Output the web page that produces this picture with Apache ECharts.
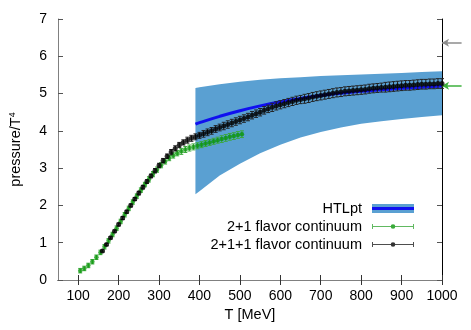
<!DOCTYPE html>
<html>
<head>
<meta charset="utf-8">
<script src="https://cdn.jsdelivr.net/npm/echarts@6/dist/echarts.min.js"></script>
<style>html,body{margin:0;padding:0;background:#fff}#c{width:471px;height:330px}</style>
</head>
<body>
<div id="c"></div>
<script>
// ---------------- data ----------------
const xTicks = [100,200,300,400,500,600,700,800,900,1000];

// HTLpt band (lower / upper) and central value
const htlT      = [390,400,450,500,550,600,650,700,750,800,850,900,950,1000];
const htlLower  = [2.30,2.38,2.80,3.12,3.40,3.63,3.82,3.97,4.09,4.19,4.26,4.32,4.37,4.42];
const htlUpper  = [5.15,5.17,5.25,5.32,5.37,5.41,5.44,5.47,5.49,5.51,5.53,5.55,5.58,5.60];
const htlCenter = [4.18,4.22,4.39,4.54,4.67,4.78,4.87,4.95,5.01,5.06,5.10,5.14,5.17,5.20];

// 2+1 flavor continuum
const g21T   = [105,115,125,135,145,155,165,175,185,195,205,215,225,235,245,255,265,275,285,295,305,315,325,335,345,355,365,375,385,395,405,415,425,435,445,455,465,475,485,495,505];
const g21P   = [0.25,0.31,0.39,0.49,0.61,0.74,0.89,1.05,1.22,1.39,1.57,1.75,1.92,2.09,2.25,2.41,2.56,2.70,2.84,2.96,3.08,3.18,3.27,3.34,3.40,3.45,3.50,3.54,3.57,3.60,3.63,3.66,3.69,3.72,3.75,3.78,3.81,3.84,3.86,3.89,3.91];
const g21Err = [0.06,0.06,0.06,0.06,0.06,0.06,0.06,0.06,0.06,0.06,0.06,0.06,0.06,0.06,0.06,0.06,0.06,0.07,0.07,0.07,0.07,0.07,0.07,0.07,0.07,0.08,0.08,0.08,0.08,0.08,0.08,0.08,0.08,0.08,0.08,0.09,0.09,0.09,0.09,0.09,0.09];

// 2+1+1 flavor continuum
const g211T = [160,170,180,190,200,210,220,230,240,250,260,270,280,290,300,310,320,330,340,350,360,370,380,390,400,410,420,430,440,450,460,470,480,490,500,510,520,530,540,550,560,570,580,590,600,610,620,630,640,650,660,670,680,690,700,710,720,730,740,750,760,770,780,790,800,810,820,830,840,850,860,870,880,890,900,910,920,930,940,950,960,970,980,990,1000];
const g211P = [0.78,0.95,1.13,1.31,1.49,1.66,1.83,2.00,2.17,2.33,2.49,2.64,2.79,2.93,3.07,3.20,3.32,3.43,3.53,3.62,3.69,3.75,3.80,3.84,3.88,3.92,3.96,4.00,4.05,4.09,4.13,4.17,4.21,4.25,4.29,4.33,4.37,4.42,4.46,4.50,4.55,4.59,4.63,4.67,4.70,4.73,4.76,4.79,4.82,4.84,4.86,4.88,4.91,4.93,4.95,4.97,4.99,5.01,5.03,5.04,5.06,5.07,5.08,5.09,5.10,5.11,5.13,5.14,5.15,5.16,5.17,5.18,5.19,5.20,5.21,5.22,5.22,5.23,5.24,5.25,5.25,5.26,5.26,5.27,5.27];
const g211Err = [0.03,0.03,0.03,0.03,0.04,0.04,0.04,0.04,0.04,0.05,
                 0.05,0.05,0.05,0.06,0.06,0.06,0.06,0.07,0.07,0.07,
                 0.07,0.08,0.08,0.08,0.08,0.09,0.09,0.09,0.09,0.09,
                 0.10,0.10,0.10,0.10,0.10,0.10,0.10,0.10,0.10,0.10,
                 0.10,0.10,0.11,0.11,0.11,0.11,0.11,0.11,0.11,0.11,
                 0.12,0.12,0.12,0.12,0.12,0.12,0.12,0.12,0.12,0.12,
                 0.12,0.12,0.12,0.12,0.12,0.12,0.12,0.12,0.12,0.12,
                 0.13,0.13,0.13,0.13,0.13,0.13,0.13,0.13,0.13,0.13,
                 0.13,0.13,0.13,0.13,0.13];

// Stefan-Boltzmann limits (arrows on the right)
const sbLimit211 = 6.36;
const sbLimit21  = 5.21;

// ---------------- build ----------------
const FONT = 'Liberation Sans, Arial, Helvetica, sans-serif';
const BAND = '#5aa0d2', BLUE = '#1010f0';
const GREEN = '#0a960a', GREEN_ERR = '#3aa83a';
const BLACK = '#000000', BLACK_ERR = '#222222';

const zip2 = (a, b) => a.map((v, i) => [v, b[i]]);
const zip3 = (a, b, c) => a.map((v, i) => [v, b[i], c[i]]);

function svgIcon(inner) {
  return 'image://data:image/svg+xml;charset=utf-8,' + encodeURIComponent(
    "<svg xmlns='http://www.w3.org/2000/svg' width='42' height='10' viewBox='0 0 42 10'>" + inner + "</svg>");
}
const htlIcon = svgIcon("<rect x='0' y='0.5' width='42' height='9' fill='" + BAND + "'/><rect x='0' y='3.5' width='42' height='3' fill='" + BLUE + "'/>");
function errIcon(lc, pc) {
  return svgIcon("<line x1='0.5' y1='5' x2='41.5' y2='5' stroke='" + lc + "' stroke-width='1'/>" +
    "<line x1='0.5' y1='2.5' x2='0.5' y2='7.5' stroke='" + lc + "' stroke-width='1'/>" +
    "<line x1='41.5' y1='2.5' x2='41.5' y2='7.5' stroke='" + lc + "' stroke-width='1'/>" +
    "<circle cx='21' cy='5' r='2.3' fill='" + pc + "'/>");
}

function errRender(color) {
  return function (params, api) {
    const x = api.value(0), y = api.value(1), e = api.value(2);
    const lo = api.coord([x, y - e]), hi = api.coord([x, y + e]);
    const w = 2;
    const st = { stroke: color, lineWidth: 1 };
    return { type: 'group', children: [
      { type: 'line', shape: { x1: lo[0], y1: lo[1], x2: hi[0], y2: hi[1] }, style: st },
      { type: 'line', shape: { x1: lo[0] - w, y1: lo[1], x2: lo[0] + w, y2: lo[1] }, style: st },
      { type: 'line', shape: { x1: hi[0] - w, y1: hi[1], x2: hi[0] + w, y2: hi[1] }, style: st }
    ]};
  };
}

// band polygon: upper edge left->right, lower edge right->left
function bandRender(params, api) {
  const pts = [];
  for (let i = 0; i < htlT.length; i++) pts.push(api.coord([htlT[i], htlUpper[i]]));
  for (let i = htlT.length - 1; i >= 0; i--) pts.push(api.coord([htlT[i], htlLower[i]]));
  return { type: 'polygon', shape: { points: pts }, style: { fill: BAND, stroke: null } };
}

const chart = echarts.init(document.getElementById('c'), null, { renderer: 'canvas' });

const axisFont = { fontFamily: FONT, fontSize: 14, color: '#000' };

chart.setOption({
  animation: false,
  backgroundColor: '#fff',
  grid: { left: 57, right: 29, top: 19, bottom: 50, containLabel: false },
  legend: {
    orient: 'vertical', right: 57, top: 201, padding: 0,
    align: 'right', itemWidth: 42, itemHeight: 10, itemGap: 3,
    textStyle: { fontFamily: FONT, fontSize: 14.5, color: '#000', padding: [0, 5, 0, 0] },
    selectedMode: false,
    data: [
      { name: 'HTLpt', icon: htlIcon },
      { name: '2+1 flavor continuum', icon: errIcon(GREEN_ERR, GREEN) },
      { name: '2+1+1 flavor continuum', icon: errIcon(BLACK_ERR, BLACK) }
    ]
  },
  xAxis: [
    {
      type: 'value', position: 'bottom', min: 50, max: 1000,
      name: 'T [MeV]', nameLocation: 'middle', nameGap: 26,
      nameTextStyle: { fontFamily: FONT, fontSize: 14.5, color: '#000' },
      axisLine: { lineStyle: { color: '#000', width: 1 } },
      axisTick: { inside: true, length: 5, lineStyle: { color: '#333' }, customValues: xTicks },
      axisLabel: { margin: 9, ...axisFont, customValues: xTicks, formatter: v => String(v) },
      splitLine: { show: false }
    },
    {
      type: 'value', position: 'top', min: 50, max: 1000,
      axisLine: { lineStyle: { color: '#808080', width: 1 } },
      axisTick: { inside: true, length: 5, lineStyle: { color: '#333' }, customValues: xTicks },
      axisLabel: { show: false },
      splitLine: { show: false }
    }
  ],
  yAxis: [
    {
      type: 'value', position: 'left', min: 0, max: 7, interval: 1,
      name: 'pressure/T{sup|4}', nameLocation: 'middle', nameGap: 34, nameRotate: 90,
      nameTextStyle: { fontFamily: FONT, fontSize: 14.5, color: '#000',
        rich: { sup: { fontFamily: FONT, fontSize: 9, color: '#000', verticalAlign: 'top', padding: [0, 0, 7, 0] } } },
      axisLine: { show: true, lineStyle: { color: '#808080', width: 1 } },
      axisTick: { show: true, inside: true, length: 5, lineStyle: { color: '#555' } },
      axisLabel: { margin: 11, ...axisFont },
      splitLine: { show: false }
    },
    {
      type: 'value', position: 'right', min: 0, max: 7, interval: 1,
      axisLine: { show: true, lineStyle: { color: '#000', width: 1 } },
      axisTick: { show: true, inside: true, length: 5, lineStyle: { color: '#555' } },
      axisLabel: { show: false },
      splitLine: { show: false }
    }
  ],
  series: [
    { name: 'htl-band', type: 'custom', renderItem: bandRender,
      data: [[htlT[0], htlLower[0]]], encode: { x: 0, y: 1 }, z: 1, silent: true },
    { name: 'HTLpt', type: 'line', smooth: true, symbol: 'none', clip: false,
      data: zip2(htlT, htlCenter), lineStyle: { color: BLUE, width: 3 }, itemStyle: { color: BLUE }, z: 2,
      markLine: {
        silent: true, symbol: ['none', 'arrow'], symbolSize: [6, 7],
        label: { show: false },
        lineStyle: { type: 'solid' },
        data: [
          [ { xAxis: 1000, yAxis: sbLimit211, x: '98%', lineStyle: { color: '#8c8c8c', width: 1.5, type: 'solid' } },
            { xAxis: 1000, yAxis: sbLimit211 } ],
          [ { xAxis: 1000, yAxis: sbLimit21, x: '98%', lineStyle: { color: '#3cb03c', width: 1.5, type: 'solid' } },
            { xAxis: 1000, yAxis: sbLimit21 } ]
        ]
      }
    },
    { name: '2+1 err', type: 'custom', renderItem: errRender(GREEN_ERR),
      data: zip3(g21T, g21P, g21Err), encode: { x: 0, y: 1 }, z: 3, silent: true },
    { name: '2+1 flavor continuum', type: 'scatter', symbol: 'circle', symbolSize: 4.5,
      data: zip2(g21T, g21P), itemStyle: { color: GREEN }, z: 4 },
    { name: '2+1+1 err', type: 'custom', renderItem: errRender(BLACK_ERR),
      data: zip3(g211T, g211P, g211Err), encode: { x: 0, y: 1 }, z: 5, silent: true },
    { name: '2+1+1 flavor continuum', type: 'scatter', symbol: 'circle', symbolSize: 5,
      data: zip2(g211T, g211P), itemStyle: { color: BLACK }, z: 6 }
  ]
});
</script>
</body>
</html>
